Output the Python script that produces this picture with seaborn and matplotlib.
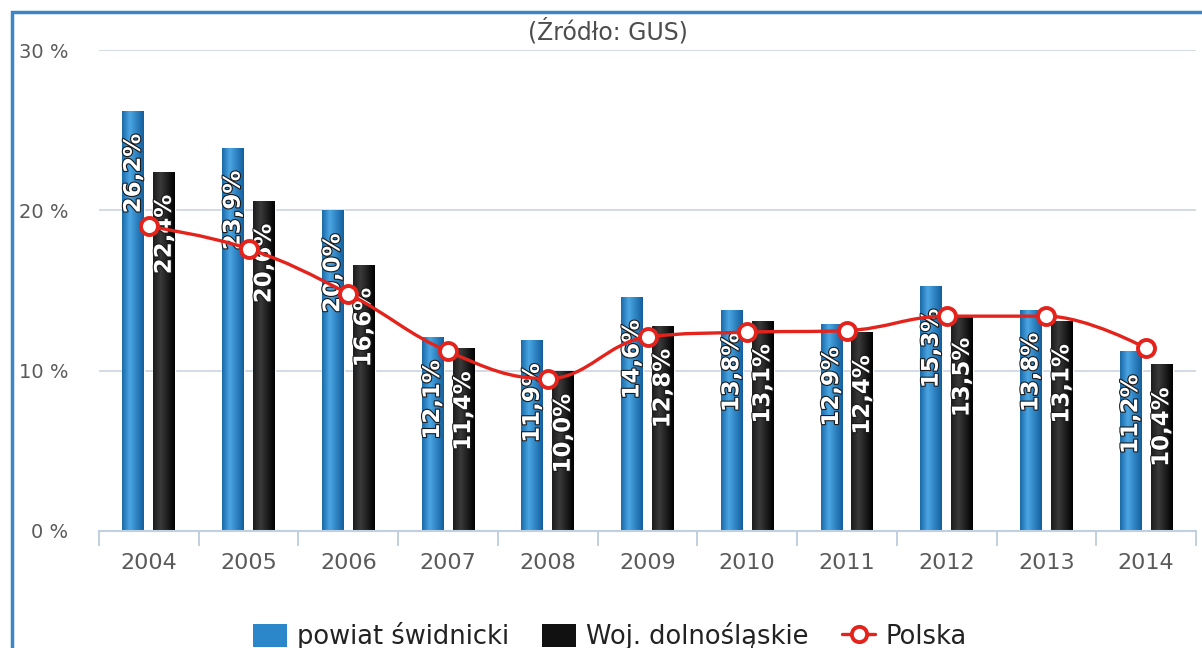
import numpy as np
import pandas as pd
import seaborn as sns
import matplotlib.pyplot as plt
import matplotlib.patheffects as pe
from matplotlib.path import Path
from matplotlib.patches import PathPatch, Patch, Rectangle
from matplotlib.lines import Line2D
from matplotlib.colors import to_rgb

years = [str(y) for y in range(2004, 2015)]
powiat = [26.2, 23.9, 20.0, 12.1, 11.9, 14.6, 13.8, 12.9, 15.3, 13.8, 11.2]
woj = [22.4, 20.6, 16.6, 11.4, 10.0, 12.8, 13.1, 12.4, 13.5, 13.1, 10.4]
polska = [19.0, 17.6, 14.8, 11.2, 9.5, 12.1, 12.4, 12.5, 13.4, 13.4, 11.4]
series_names = ['powiat świdnicki', 'Woj. dolnośląskie', 'Polska']
yticks = [0, 10, 20, 30]

RED = '#e3231c'
BLUE = '#2b87c9'
BLACK = '#111111'

df = pd.DataFrame({
    'rok': years * 2,
    'stopa': powiat + woj,
    'obszar': [series_names[0]] * len(years) + [series_names[1]] * len(years),
})

sns.set_theme(style='white')
plt.rcParams['font.family'] = ['DejaVu Sans']

fig = plt.figure(figsize=(12.02, 6.48), dpi=100)
ax = fig.add_axes([99 / 1202, 1 - 531 / 648, (1196 - 99) / 1202, (531 - 50) / 648])

sns.barplot(data=df, x='rok', y='stopa', hue='obszar', palette=[BLUE, BLACK],
            width=0.62, gap=0.29, saturation=1, legend=False, ax=ax, zorder=2)


def gradient(stops, n=64):
    pos = [p for p, _ in stops]
    cols = np.array([to_rgb(c) for _, c in stops])
    t = np.linspace(0, 1, n)
    img = np.stack([np.interp(t, pos, cols[:, k]) for k in range(3)], axis=-1)
    return img[np.newaxis, :, :]


blue_img = gradient([(0, '#1a69a8'), (0.35, '#4aa6e2'), (1, '#135f9e')])
black_img = gradient([(0, '#1c1c1c'), (0.35, '#3a3a3a'), (1, '#000000')])

values = powiat + woj
for bar, v in zip(ax.patches, values):
    x0, w, h = bar.get_x(), bar.get_width(), bar.get_height()
    is_blue = to_rgb(bar.get_facecolor())[2] > 0.5
    im = ax.imshow(blue_img if is_blue else black_img, extent=[x0, x0 + w, 0, h],
                   aspect='auto', zorder=2.5, interpolation='bilinear')
    im.set_clip_path(bar)
    lab = f'{v:.1f}'.replace('.', ',') + '%'
    ax.annotate(lab, xy=(x0 + w / 2, h), xytext=(0, -23), textcoords='offset pixels',
                rotation=90, ha='center', va='top', color='white', fontweight='bold',
                fontsize=16.5, zorder=4,
                path_effects=[pe.withStroke(linewidth=1.6, foreground='#1a1a1a')])


# Polska - spline like the original (highcharts smoothing)
def spline_path(xs, ys, s=1.5):
    n = len(xs)
    lc, rc = [None] * n, [None] * n
    for i in range(1, n - 1):
        lx = (s * xs[i] + xs[i - 1]) / (s + 1)
        ly = (s * ys[i] + ys[i - 1]) / (s + 1)
        rx = (s * xs[i] + xs[i + 1]) / (s + 1)
        ry = (s * ys[i] + ys[i + 1]) / (s + 1)
        corr = (ry - ly) * (rx - xs[i]) / (rx - lx) + ys[i] - ry
        ly += corr
        ry += corr
        if ly > max(ys[i - 1], ys[i]):
            ly = max(ys[i - 1], ys[i]); ry = 2 * ys[i] - ly
        elif ly < min(ys[i - 1], ys[i]):
            ly = min(ys[i - 1], ys[i]); ry = 2 * ys[i] - ly
        if ry > max(ys[i + 1], ys[i]):
            ry = max(ys[i + 1], ys[i]); ly = 2 * ys[i] - ry
        elif ry < min(ys[i + 1], ys[i]):
            ry = min(ys[i + 1], ys[i]); ly = 2 * ys[i] - ry
        lc[i] = (lx, ly)
        rc[i] = (rx, ry)
    verts = [(xs[0], ys[0])]
    codes = [Path.MOVETO]
    for i in range(1, n):
        c1 = rc[i - 1] if rc[i - 1] else (xs[i - 1], ys[i - 1])
        c2 = lc[i] if lc[i] else (xs[i], ys[i])
        verts += [c1, c2, (xs[i], ys[i])]
        codes += [Path.CURVE4] * 3
    return Path(verts, codes)


xpos = np.arange(len(years), dtype=float)
ax.add_patch(PathPatch(spline_path(xpos, np.array(polska)), facecolor='none',
                       edgecolor=RED, linewidth=2.4, zorder=5))
sns.scatterplot(x=xpos, y=polska, s=150, color='white', edgecolor=RED,
                linewidth=2.8, zorder=6, ax=ax, legend=False)

# axes styling
ax.set_xlim(-0.5, len(years) - 0.5)
ax.set_ylim(0, 30)
ax.set_yticks(yticks)
ax.set_yticklabels([f'{t} %' for t in yticks])
ax.yaxis.grid(True, color='#d3dbe4', linewidth=1.4, zorder=0)
ax.set_axisbelow(True)
ax.set_xlabel('')
ax.set_ylabel('')
for side in ['left', 'right', 'top']:
    ax.spines[side].set_visible(False)
ax.spines['bottom'].set_color('#c0d0e0')
ax.spines['bottom'].set_linewidth(1.5)
ax.set_xticks(np.arange(-0.5, len(years)), minor=True)
ax.tick_params(axis='x', which='minor', length=11, width=1.4, color='#c0d0e0', bottom=True)
ax.tick_params(axis='x', which='major', length=0, pad=16, labelsize=16, labelcolor='#5a5a5a')
ax.tick_params(axis='y', length=0, pad=22, labelsize=14, labelcolor='#5a5a5a')

fig.text(608 / 1202, 1 - 31 / 648, '(Źródło: GUS)', ha='center', va='center',
         fontsize=17, color='#4d4d4d')

handles = [
    Patch(facecolor=BLUE, edgecolor='none'),
    Patch(facecolor=BLACK, edgecolor='none'),
    Line2D([0], [0], color=RED, lw=2.4, marker='o', markersize=11,
           markerfacecolor='white', markeredgewidth=2.8),
]
leg = fig.legend(handles, series_names, loc='center', ncol=3, frameon=False,
                 bbox_to_anchor=(610 / 1202, 1 - 636 / 648), fontsize=18.5,
                 handlelength=1.3, handleheight=1.0, columnspacing=1.3, handletextpad=0.4)
for t in leg.get_texts():
    t.set_color('#222222')

fig.patches.append(Rectangle((12 / 1202, -0.1), 1.2, 1 - 12 / 648 + 0.1,
                             transform=fig.transFigure, fill=False,
                             edgecolor='#3d85c6', linewidth=2.5))

fig.savefig('out.png', dpi=100)
